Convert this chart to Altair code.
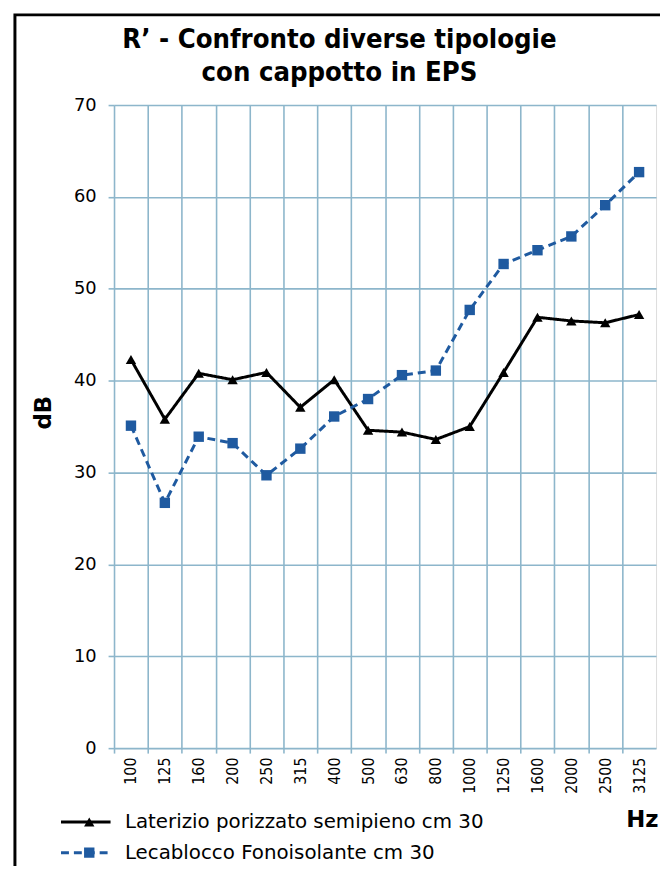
import altair as alt
import pandas as pd

freqs = ["100", "125", "160", "200", "250", "315", "400", "500",
         "630", "800", "1000", "1250", "1600", "2000", "2500", "3125"]
laterizio = [42.3, 35.8, 40.8, 40.1, 40.9, 37.1, 40.1, 34.6,
             34.4, 33.6, 35.0, 40.9, 46.9, 46.5, 46.3, 47.2]
lecablocco = [35.1, 26.7, 33.9, 33.2, 29.7, 32.6, 36.1, 38.0,
              40.6, 41.1, 47.7, 52.7, 54.2, 55.7, 59.1, 62.7]
series_names = ["Laterizio porizzato semipieno cm 30", "Lecablocco Fonoisolante cm 30"]
series_colors = ["#000000", "#1f5aa0"]
series_shapes = ["triangle-up", "square"]
series_dashes = [[1, 0], [8, 5]]
y_ticks = [0, 10, 20, 30, 40, 50, 60, 70]
title_lines = ["R\u2019 - Confronto diverse tipologie", "con cappotto in EPS"]

rows = []
for f, a, b in zip(freqs, laterizio, lecablocco):
    rows.append({"Hz": f, "serie": series_names[0], "dB": a})
    rows.append({"Hz": f, "serie": series_names[1], "dB": b})
df = pd.DataFrame(rows)

W, H = 547, 649
step = W / len(freqs)
GRID = "#8db6cb"
FONT = "DejaVu Sans"
CFONT = "DejaVu Sans Condensed"

x_enc = alt.X(
    "Hz:N", sort=freqs,
    scale=alt.Scale(type="point", padding=0.5),
    axis=alt.Axis(
        title="Hz", labelAngle=270, labelFontSize=16, labelFont=CFONT, labelColor="black",
        labelPadding=4, tickSize=5, tickColor=GRID, tickWidth=1.6,
        tickOffset=-step / 2, labelOffset=step / 2,
        grid=True, gridColor=GRID, gridWidth=1.6, domain=False,
        titleFont=FONT, titleFontSize=23, titleFontWeight="bold", titleColor="black",
        titleX=549, titleY=79, titleAlign="right", titleBaseline="alphabetic", titleAngle=0,
    ),
)
y_enc = alt.Y(
    "dB:Q",
    scale=alt.Scale(domain=[0, 70], nice=False),
    axis=alt.Axis(
        values=y_ticks, title="dB", titleFont=FONT, titleFontSize=23, titleFontWeight="bold",
        titleColor="black", titleAngle=270, titleX=-71, titleY=310, titleAlign="center",
        titleBaseline="middle", labelFont=FONT, labelFontSize=18, labelColor="black",
        labelPadding=12, tickSize=6, tickColor=GRID, tickWidth=1.6,
        grid=True, gridColor=GRID, gridWidth=1.6, domain=False,
    ),
)

color_scale = alt.Scale(domain=series_names, range=series_colors)

lines = alt.Chart(df).mark_line(strokeWidth=3).encode(
    x=x_enc, y=y_enc,
    color=alt.Color("serie:N", scale=color_scale, legend=alt.Legend(
        title=None, orient="none", legendX=-55, legendY=714, symbolType="stroke",
        symbolSize=2500, symbolStrokeWidth=3, labelFont=FONT, labelFontSize=20,
        labelColor="black", labelOffset=13, rowPadding=10, padding=0, labelLimit=600,
        clipHeight=19)),
    strokeDash=alt.StrokeDash("serie:N", scale=alt.Scale(domain=series_names, range=series_dashes)),
)

points = alt.Chart(df).mark_point(filled=True, size=110, opacity=1).encode(
    x=x_enc, y=y_enc,
    color=alt.Color("serie:N", scale=color_scale, legend=alt.Legend(
        title=None, orient="none", legendX=-35, legendY=714, symbolSize=110,
        symbolOpacity=1, labelFont=FONT, labelFontSize=20, labelExpr="''",
        labelOffset=40, rowPadding=10, padding=0, labelLimit=600, clipHeight=19)),
    shape=alt.Shape("serie:N", scale=alt.Scale(domain=series_names, range=series_shapes)),
)

frame = alt.Chart(alt.Data(values=[{"k": 1}])).mark_rect(
    fill="transparent", stroke="black", strokeWidth=3
).encode(x=alt.value(-100), x2=alt.value(800), y=alt.value(-91), y2=alt.value(900))

chart = alt.layer(frame, lines, points).resolve_legend(
    color="independent", shape="independent", strokeDash="independent"
).properties(
    width=W, height=H,
    autosize=alt.AutoSizeParams(type="none"),
    padding={"left": 107, "top": 94, "right": 4, "bottom": 115},
    title=alt.TitleParams(
        text=title_lines, font=CFONT, fontSize=27.5, fontWeight="bold", color="black",
        anchor="middle", frame="group", dx=-46, dy=74, offset=0, lineHeight=34,
    ),
).configure_view(stroke=GRID, strokeWidth=1.6).configure(background="white")

chart.save("out.html", embed_options={"renderer": "svg", "actions": False})
